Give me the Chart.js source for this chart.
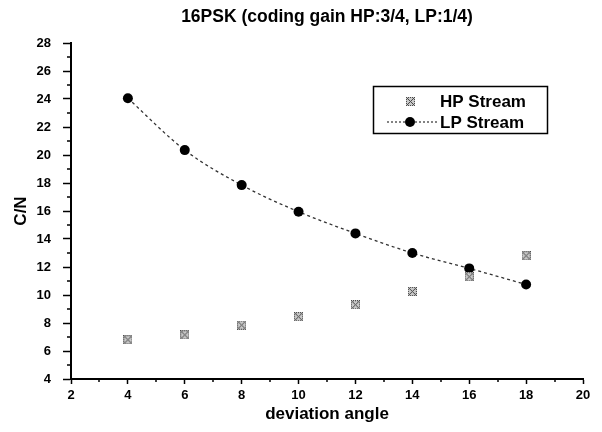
<!DOCTYPE html>
<html>
<head>
<meta charset="utf-8">
<script src="https://cdn.jsdelivr.net/npm/chart.js@4"></script>
<style>
  html, body { margin: 0; padding: 0; background: #fff; }
  #wrap { width: 602px; height: 432px; }
</style>
</head>
<body>
<div id="wrap"><canvas id="psk-chart" width="602" height="432"></canvas></div>
<script>
// deviation angle vs required C/N
const angles = [4, 6, 8, 10, 12, 14, 16, 18];
const hpStream = [6.8, 7.15, 7.85, 8.45, 9.3, 10.25, 11.3, 12.8];
const lpStream = [24.05, 20.35, 17.85, 15.95, 14.4, 13.0, 11.9, 10.75];
const xTicks = [2, 4, 6, 8, 10, 12, 14, 16, 18, 20];
const yTicks = [4, 6, 8, 10, 12, 14, 16, 18, 20, 22, 24, 26, 28];

const FONT = '"Liberation Sans", Arial, sans-serif';

// small hatched square used for the HP points
function hatchedSquare() {
    const c = document.createElement('canvas');
    c.width = 9; c.height = 9;
    const g = c.getContext('2d');
    g.fillStyle = '#c8c8c8';
    g.fillRect(0, 0, 9, 9);
    g.fillStyle = '#4a4a4a';
    for (let i = 0; i < 9; i++) {
        for (let j = 0; j < 9; j++) {
            const edge = i === 0 || j === 0 || i === 8 || j === 8;
            if ((edge && (i + j) % 2 === 0) || i === j || i + j === 8) g.fillRect(i, j, 1, 1);
        }
    }
    return c;
}
const hpMarker = hatchedSquare();

const pts = (ys) => angles.map((x, i) => ({ x: x, y: ys[i] }));

// odd values get short unlabeled ticks
const minorTicks = {
    id: 'minorTicks',
    afterDraw(chart) {
        const { ctx, scales: { x, y } } = chart;
        ctx.save();
        ctx.strokeStyle = '#000';
        ctx.lineWidth = 1.5;
        ctx.beginPath();
        for (let v = 3; v < 20; v += 2) {
            const px = Math.round(x.getPixelForValue(v));
            ctx.moveTo(px, x.top);
            ctx.lineTo(px, x.top + 3);
        }
        for (let v = 5; v < 28; v += 2) {
            const py = Math.round(y.getPixelForValue(v));
            ctx.moveTo(y.right, py);
            ctx.lineTo(y.right - 4, py);
        }
        ctx.stroke();
        ctx.restore();
    }
};

// boxed legend inside the plot, upper right
const boxLegend = {
    id: 'boxLegend',
    afterDraw(chart) {
        const ctx = chart.ctx;
        const bx = 373, by = 86, bw = 174, bh = 47;
        ctx.save();
        ctx.fillStyle = '#fff';
        ctx.fillRect(bx, by, bw, bh);
        ctx.strokeStyle = '#000';
        ctx.lineWidth = 1.5;
        ctx.strokeRect(bx + 0.5, by + 0.5, bw, bh);

        ctx.drawImage(hpMarker, 406, 97);

        ctx.strokeStyle = '#333';
        ctx.lineWidth = 1.2;
        ctx.setLineDash([2, 2]);
        ctx.beginPath();
        ctx.moveTo(387, 122);
        ctx.lineTo(437, 122);
        ctx.stroke();
        ctx.setLineDash([]);
        ctx.fillStyle = '#000';
        ctx.beginPath();
        ctx.arc(410, 122, 5, 0, Math.PI * 2);
        ctx.fill();

        ctx.font = 'bold 17px ' + FONT;
        ctx.textBaseline = 'middle';
        ctx.fillText(chart.data.datasets[0].label, 440, 102);
        ctx.fillText(chart.data.datasets[1].label, 440, 123);
        ctx.restore();
    }
};

const axisStyle = {
    border: { color: '#000', width: 2 },
    grid: {
        drawOnChartArea: false,
        color: '#000',
        tickColor: '#000',
        tickWidth: 1.5
    }
};

new Chart(document.getElementById('psk-chart'), {
    type: 'scatter',
    data: {
        datasets: [
            {
                label: 'HP Stream',
                data: pts(hpStream),
                pointStyle: hpMarker,
                showLine: false
            },
            {
                label: 'LP Stream',
                data: pts(lpStream),
                showLine: true,
                borderColor: '#333',
                borderWidth: 1.3,
                borderDash: [3, 3],
                tension: 0.4,
                cubicInterpolationMode: 'monotone',
                pointStyle: 'circle',
                pointRadius: 5,
                pointBackgroundColor: '#000',
                pointBorderColor: '#000',
                pointBorderWidth: 0
            }
        ]
    },
    options: {
        responsive: false,
        animation: false,
        layout: { padding: { left: 0, right: 19, top: 0, bottom: 0 } },
        plugins: {
            legend: { display: false },
            tooltip: { enabled: false },
            title: {
                display: true,
                fullSize: false,
                text: '16PSK (coding gain HP:3/4, LP:1/4)',
                color: '#000',
                font: { family: FONT, size: 17.5, weight: 'bold' },
                padding: { top: 7, bottom: 15 }
            }
        },
        scales: {
            x: {
                type: 'linear',
                min: 2, max: 20,
                afterBuildTicks: (s) => { s.ticks = xTicks.map(v => ({ value: v })); },
                afterFit: (s) => { s.height = 53; },
                border: axisStyle.border,
                grid: Object.assign({ tickLength: 5 }, axisStyle.grid),
                ticks: {
                    color: '#000',
                    padding: 4,
                    maxRotation: 0,
                    font: { family: FONT, size: 13, weight: 'bold' }
                },
                title: {
                    display: true,
                    text: 'deviation angle',
                    color: '#000',
                    font: { family: FONT, size: 17, weight: 'bold' },
                    padding: { top: 0, bottom: 7 }
                }
            },
            y: {
                type: 'linear',
                min: 4, max: 28,
                afterBuildTicks: (s) => { s.ticks = yTicks.map(v => ({ value: v })); },
                afterFit: (s) => { s.width = 71; },
                border: axisStyle.border,
                grid: Object.assign({ tickLength: 8 }, axisStyle.grid),
                ticks: {
                    color: '#000',
                    padding: 12,
                    font: { family: FONT, size: 13, weight: 'bold' }
                },
                title: {
                    display: true,
                    text: 'C/N',
                    color: '#000',
                    font: { family: FONT, size: 17, weight: 'bold' },
                    padding: { top: 11, bottom: 0 }
                }
            }
        }
    },
    plugins: [minorTicks, boxLegend]
});
</script>
</body>
</html>
